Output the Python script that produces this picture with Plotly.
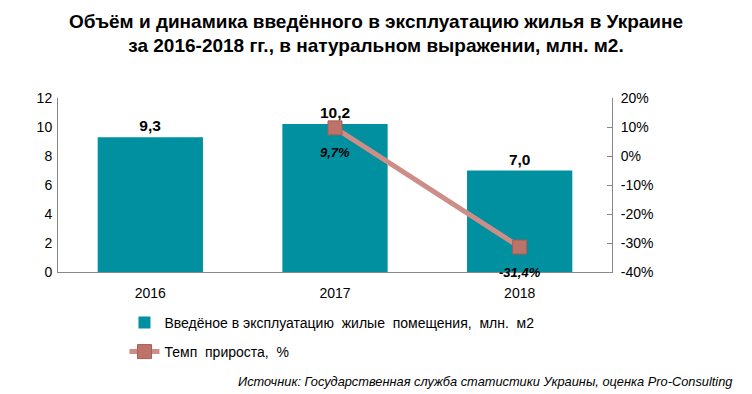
import plotly.graph_objects as go

years = ["2016", "2017", "2018"]
volume = [9.3, 10.2, 7.0]
volume_labels = ["9,3", "10,2", "7,0"]
growth_years = ["2017", "2018"]
growth = [9.7, -31.4]
growth_labels = ["9,7%", "-31,4%"]
left_ticks = [0, 2, 4, 6, 8, 10, 12]
right_ticks = [-40, -30, -20, -10, 0, 10, 20]
right_tick_labels = ["-40%", "-30%", "-20%", "-10%", "0%", "10%", "20%"]

FONT = "Liberation Sans, Arial, sans-serif"

fig = go.Figure()
fig.add_trace(go.Bar(
    x=years, y=volume,
    name="Введёное в эксплуатацию  жилые  помещения,  млн.  м2",
    legendgroup="a",
    marker=dict(color="#0090A0", line=dict(width=0)),
    text=volume_labels, textposition="outside",
    textfont=dict(size=15.5, color="#000", family=FONT),
    texttemplate="<b>%{text}</b>",
    cliponaxis=False,
))
fig.add_trace(go.Scatter(
    x=growth_years, y=growth, yaxis="y2",
    name="Темп  прироста,  %",
    legendgroup="b",
    mode="lines+markers",
    line=dict(color="#CC8E86", width=5),
    marker=dict(symbol="square", size=14, color="#BD7369", line=dict(color="#A85E55", width=1)),
    cliponaxis=False,
))
for xv, yv, lab in zip(growth_years, growth, growth_labels):
    fig.add_annotation(
        x=years.index(xv), y=yv, xref="x", yref="y2", text="<b><i>" + lab + "</i></b>",
        showarrow=False, yshift=-25, font=dict(size=13, color="#000", family=FONT),
    )

fig.update_layout(
    width=752, height=394,
    margin=dict(l=58, r=140, t=98, b=122),
    paper_bgcolor="white", plot_bgcolor="white",
    font=dict(family=FONT, size=14, color="#000"),
    title=dict(
        text="<b>Объём и динамика введённого в эксплуатацию жилья в Украине<br>за 2016-2018 гг., в натуральном выражении, млн. м2.</b>",
        x=0.5, xanchor="center", y=0.93, yanchor="top",
        font=dict(size=19, color="#000", family=FONT),
    ),
    bargap=0.43,
    xaxis=dict(type="category", showline=True, linecolor="#888", linewidth=1, ticks="",
               showgrid=False, tickfont=dict(size=14), ticklabelstandoff=8),
    yaxis=dict(range=[0, 12], tickvals=left_ticks, showline=True, linecolor="#888", linewidth=1,
               showgrid=False, zeroline=False, ticks="", tickfont=dict(size=14),
               ticklabelstandoff=2),
    yaxis2=dict(range=[-40, 20], tickvals=right_ticks, ticktext=right_tick_labels,
                overlaying="y", side="right", showline=True, linecolor="#888", linewidth=1,
                showgrid=False, zeroline=False, ticks="inside", ticklen=5, tickcolor="#888",
                tickfont=dict(size=14), ticklabelstandoff=5),
    legend=dict(x=0.12, xanchor="left", y=-0.2, yanchor="top", orientation="v",
                font=dict(size=14), tracegroupgap=8, bgcolor="rgba(0,0,0,0)"),
    showlegend=True,
)
fig.add_annotation(
    text="<i>Источник: Государственная служба статистики Украины, оценка Pro-Consulting</i>",
    xref="paper", yref="paper", x=1.221, y=-0.63, xanchor="right", yanchor="middle",
    showarrow=False, font=dict(size=12.8, color="#000", family=FONT),
)
fig.write_html("out.html", config={"displayModeBar": False})

with open("out.html", "r", encoding="utf-8") as f:
    html = f.read()
html = html.replace("<head>", "<head><style>html,body{margin:0;padding:0;}</style>", 1)
with open("out.html", "w", encoding="utf-8") as f:
    f.write(html)
